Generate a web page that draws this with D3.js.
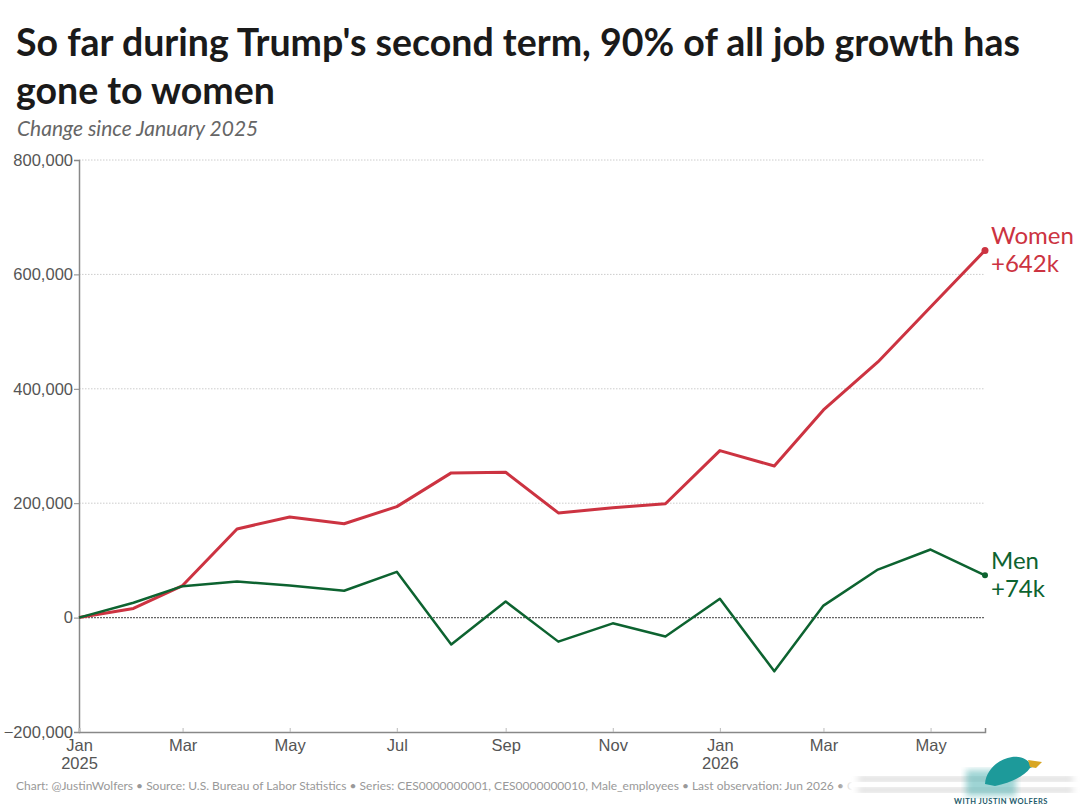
<!DOCTYPE html>
<html>
<head>
<meta charset="utf-8">
<script src="https://cdn.jsdelivr.net/npm/d3@7"></script>
<style>
  body { margin: 0; background: #fff; }
  svg { display: block; }
</style>
</head>
<body>
<svg width="1080" height="810"></svg>
<script>
// months since Jan 2025, first of each month
let months = ['2025-01', '2025-02', '2025-03', '2025-04', '2025-05', '2025-06', '2025-07', '2025-08', '2025-09',
  '2025-10', '2025-11', '2025-12', '2026-01', '2026-02', '2026-03', '2026-04', '2026-05', '2026-06']
let women = [0, 16000, 56000, 155000, 176000, 164000, 194000, 253000, 254000,
  183000, 192000, 199000, 292000, 265000, 363000, 447000, 543000, 642000]
let men = [0, 26000, 55000, 63000, 56000, 47000, 80000, -47000, 28000,
  -42000, -10000, -33000, 33000, -94000, 21000, 84000, 119000, 74000]
let yTicks = [-200000, 0, 200000, 400000, 600000, 800000]
let xTickMonths = ['2025-01', '2025-03', '2025-05', '2025-07', '2025-09', '2025-11', '2026-01', '2026-03', '2026-05']

let width = 1080
let height = 810
let margin = { top: 160, bottom: 78, left: 79, right: 95 }

let parse = d3.timeParse('%Y-%m')
let dates = months.map(parse)
let series = [
  { name: 'Women', values: women, color: '#cc3341', width: 3, label: '+642k' },
  { name: 'Men', values: men, color: '#0d6330', width: 2.5, label: '+74k' }
]

let svg = d3.select('svg')

let xScale = d3.scaleTime()
  .domain(d3.extent(dates))
  .range([margin.left, width - margin.right])

let yScale = d3.scaleLinear()
  .domain([-200000, 800000])
  .range([height - margin.bottom, margin.top])

// title
svg.append('text')
  .attr('x', 16).attr('y', 56)
  .style('font-family', 'Lato').style('font-weight', 700).style('font-size', '37.5px')
  .attr('fill', '#1a1a1a')
  .text("So far during Trump's second term, 90% of all job growth has")
svg.append('text')
  .attr('x', 16).attr('y', 104)
  .style('font-family', 'Lato').style('font-weight', 700).style('font-size', '37.5px')
  .attr('fill', '#1a1a1a')
  .text('gone to women')
svg.append('text')
  .attr('x', 17).attr('y', 136)
  .style('font-family', 'Lato').style('font-style', 'italic').style('font-size', '21px')
  .attr('fill', '#666')
  .text('Change since January 2025')

// gridlines
svg.append('g')
  .selectAll('line')
  .data(yTicks)
  .enter()
  .append('line')
  .attr('x1', margin.left)
  .attr('x2', width - margin.right)
  .attr('y1', d => yScale(d))
  .attr('y2', d => yScale(d))
  .attr('stroke', d => d === 0 ? '#666' : '#ccc')
  .attr('stroke-width', d => d === 0 ? 1.3 : 1)
  .attr('stroke-dasharray', d => d === 0 ? '2,1' : '1.5,1.5')
  .attr('opacity', d => d === -200000 ? 0 : 1)

// axes
let yAxis = d3.axisLeft(yScale)
  .tickValues(yTicks)
  .tickSize(5)
  .tickFormat(d => d3.format(',')(d).replace('-', '\u2212'))
let yG = svg.append('g')
  .attr('transform', 'translate(' + [margin.left, 0] + ')')
  .call(yAxis)
yG.select('.domain').attr('stroke', '#888').attr('stroke-width', 1.5)
yG.selectAll('.tick line').attr('stroke', '#888')
yG.selectAll('.tick text')
  .style('font-family', 'Liberation Sans, Arial, sans-serif')
  .style('font-size', '16.5px')
  .attr('fill', '#555')
  .attr('x', -6)

let xAxis = d3.axisBottom(xScale)
  .tickValues(xTickMonths.map(parse))
  .tickSize(-4)
  .tickFormat(d3.timeFormat('%b'))
let xG = svg.append('g')
  .attr('transform', 'translate(' + [0, height - margin.bottom] + ')')
  .call(xAxis)
xG.select('.domain').attr('stroke', '#888').attr('stroke-width', 1.5)
xG.selectAll('.tick line').attr('stroke', '#bbb')
xG.selectAll('.tick text')
  .style('font-family', 'Liberation Sans, Arial, sans-serif')
  .style('font-size', '16.5px')
  .attr('fill', '#555')
  .attr('y', 7)
xG.selectAll('.tick')
  .filter(d => d.getMonth() === 0)
  .append('text')
  .attr('y', 25).attr('dy', '0.71em')
  .attr('text-anchor', 'middle')
  .style('font-family', 'Liberation Sans, Arial, sans-serif')
  .style('font-size', '16.5px')
  .attr('fill', '#555')
  .text(d => d.getFullYear())

// lines
let line = d3.line()
  .x((d, i) => xScale(dates[i]))
  .y(d => yScale(d))

svg.selectAll('.series')
  .data(series)
  .enter()
  .append('path')
  .attr('class', 'series')
  .attr('d', d => line(d.values))
  .attr('fill', 'none')
  .attr('stroke', d => d.color)
  .attr('stroke-width', d => d.width)
  .attr('stroke-linejoin', 'round')

let last = dates.length - 1
svg.selectAll('.dot')
  .data(series)
  .enter()
  .append('circle')
  .attr('cx', xScale(dates[last]))
  .attr('cy', d => yScale(d.values[last]))
  .attr('r', d => d.width + 0.5)
  .attr('fill', d => d.color)

let labels = svg.selectAll('.lab')
  .data(series)
  .enter()
  .append('text')
  .attr('x', xScale(dates[last]) + 6)
  .attr('y', d => yScale(d.values[last]) - 6)
  .style('font-family', 'Lato')
  .style('font-size', '24px')
  .attr('fill', d => d.color)
labels.append('tspan').text(d => d.name)
labels.append('tspan')
  .attr('x', xScale(dates[last]) + 6)
  .attr('dy', 28)
  .text(d => d.label)

// footer
svg.append('text')
  .attr('x', 16).attr('y', 790)
  .style('font-family', 'Lato').style('font-size', '12px')
  .attr('fill', '#999')
  .text('Chart: @JustinWolfers \u2022 Source: U.S. Bureau of Labor Statistics \u2022 Series: CES0000000001, CES0000000010, Male_employees \u2022 Last observation: Jun 2026 \u2022 Created with Datawrapper')

// logo overlay (blurred watermark)
let defs = svg.append('defs')
defs.append('filter').attr('id', 'blur')
  .append('feGaussianBlur').attr('stdDeviation', 3)
let grad = defs.append('linearGradient').attr('id', 'fade')
grad.append('stop').attr('offset', '0').attr('stop-color', '#fff').attr('stop-opacity', 0)
grad.append('stop').attr('offset', '0.06').attr('stop-color', '#fff').attr('stop-opacity', 1)
svg.append('rect')
  .attr('x', 838).attr('y', 760).attr('width', 242).attr('height', 50)
  .attr('fill', 'url(#fade)')
let logo = svg.append('g')
logo.append('rect').attr('x', 858).attr('y', 777).attr('width', 215).attr('height', 4)
  .attr('fill', '#ccc').attr('filter', 'url(#blur)')
logo.append('rect').attr('x', 858).attr('y', 788).attr('width', 215).attr('height', 4)
  .attr('fill', '#ccc').attr('filter', 'url(#blur)')
logo.append('rect').attr('x', 966).attr('y', 770).attr('width', 50).attr('height', 26)
  .attr('fill', '#5fb8b8').attr('opacity', 0.6).attr('filter', 'url(#blur)')
logo.append('path')
  .attr('d', 'M985,784 C986,770 998,759 1012,757 C1022,756 1028,760 1030,764 L1035,766 L1030,768 C1025,776 1010,783 995,786 Z')
  .attr('fill', '#1d9a9a')
logo.append('path')
  .attr('d', 'M1028,760 L1042,762 L1036,768 L1030,767 Z')
  .attr('fill', '#d8a623')
logo.append('text')
  .attr('x', 1001).attr('y', 804)
  .attr('text-anchor', 'middle')
  .style('font-family', 'Lato').style('font-weight', 700).style('font-size', '7.5px')
  .style('letter-spacing', '0.5px')
  .attr('fill', '#1d5a6a')
  .text('WITH JUSTIN WOLFERS')
</script>
</body>
</html>
